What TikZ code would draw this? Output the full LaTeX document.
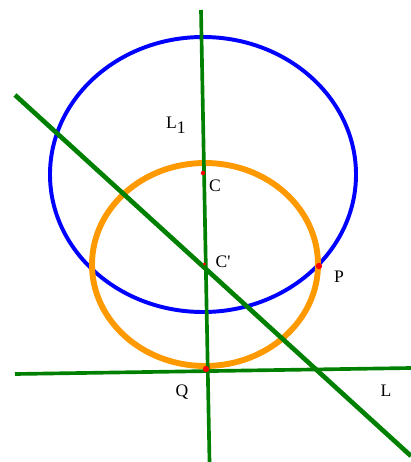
\documentclass[tikz,border=0pt]{standalone}
\usepackage{fontspec}
\setmainfont{Liberation Serif}
\usepackage{tikz}
\usetikzlibrary{positioning,calc}
\definecolor{lgreen}{HTML}{008000}
\definecolor{cblue}{HTML}{0000FF}
\definecolor{corange}{HTML}{FF9900}
\definecolor{pred}{HTML}{FF0000}
\tikzset{
  gline/.style={draw=lgreen, line width=2.6pt},
  bcirc/.style={draw=cblue, line width=2.8pt},
  ocirc/.style={draw=corange, line width=4.2pt},
  pdot/.style={circle, fill=pred, inner sep=0pt, minimum size=3.2pt},
  lbl/.style={font=\fontsize{12.5}{14}\selectfont, inner sep=1pt},
}

\begin{document}
\begin{tikzpicture}[x=0.025cm, y=-0.025cm]
\useasboundingbox (0,0) rectangle (411,462);

% --- points ---------------------------------------------------------------
\coordinate (c) at (203,173);
\coordinate (cp) at (204.5,264);
\coordinate (q) at (206,369);
\coordinate (p) at (319,266);
\coordinate (oc) at (205,264.5);

% --- circles ---------------------------------------------------------------
\draw[bcirc] (203,174.5) ellipse [x radius=153, y radius=137.5];
\draw[ocirc] (oc) ellipse [x radius=113, y radius=101.5];

% --- lines -----------------------------------------------------------------
\coordinate (l1a) at (201,10);
\coordinate (l1b) at (209.5,462);
\coordinate (la) at (15,95);
\coordinate (lb) at (411,456);
\coordinate (qa) at (15,374);
\coordinate (qb) at (411,368);
\draw[gline] (l1a) -- (l1b);
\draw[gline, line width=3.3pt] (la) -- (lb);
\draw[gline] (qa) -- (qb);

% --- marks and labels ------------------------------------------------------
\node[pdot] (cdot) at (c) {};
\node[pdot, minimum size=2.4pt] (cpdot) at (cp) {};
\node[pdot, minimum size=4.5pt] (qdot) at (q) {};
\node[pdot, minimum size=4.5pt] (pdot1) at (p) {};
\node[lbl] (l1lbl) at (176,125) {L\raisebox{-3.5pt}{1}};
\node[lbl] (clbl) at (215,186) {C};
\node[lbl] (cplbl) at (223,262) {C\textquotesingle};
\node[lbl] (plbl) at (339,277) {P};
\node[lbl] (qlbl) at (182,392) {Q};
\node[lbl] (llbl) at (386,391) {L};
\end{tikzpicture}
\end{document}
